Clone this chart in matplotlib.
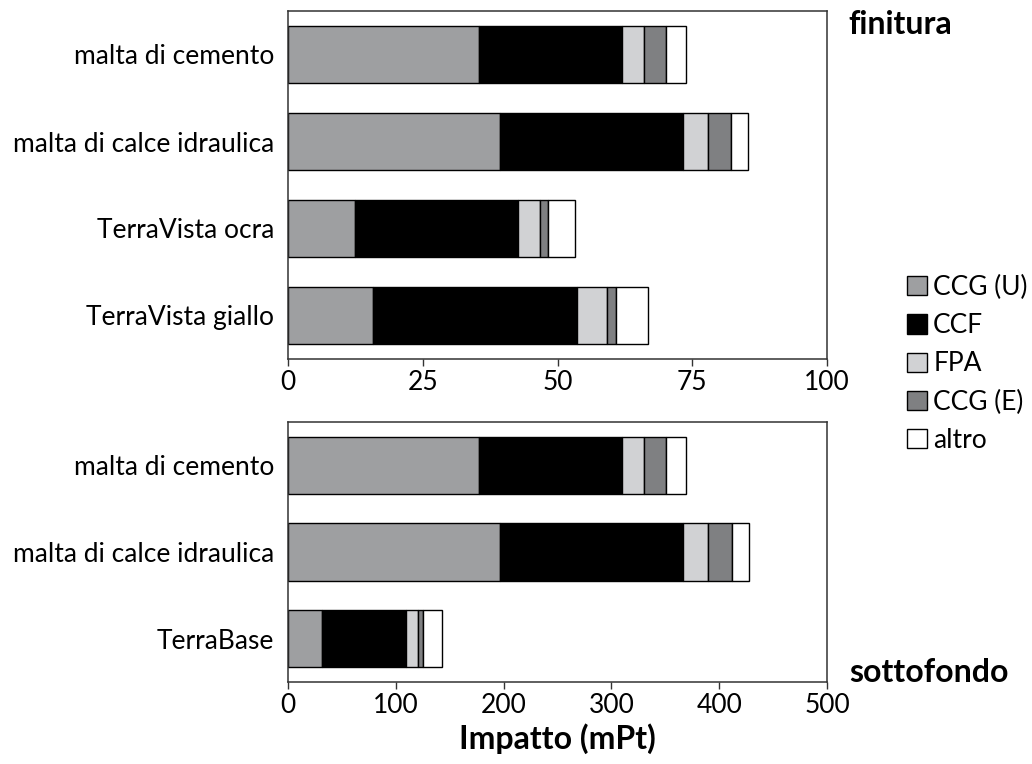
import numpy as np
import matplotlib
matplotlib.use("Agg")
import matplotlib.pyplot as plt

plt.rcParams["font.family"] = ["Lato", "DejaVu Sans"]

# ============================================================
# dati
# ============================================================
components = ["CCG (U)", "CCF", "FPA", "CCG (E)", "altro"]
colors = ["#9e9fa1", "#000000", "#d1d2d4", "#7f8082", "#ffffff"]

fin_labels = ["malta di cemento", "malta di calce idraulica",
              "TerraVista ocra", "TerraVista giallo"]
fin_ccg_u = [35.5, 39.3, 12.5, 15.8]
fin_ccf = [26.4, 33.9, 30.1, 37.8]
fin_fpa = [4.2, 4.7, 4.1, 5.6]
fin_ccg_e = [4.0, 4.3, 1.5, 1.7]
fin_altro = [3.7, 3.2, 5.1, 5.8]

sot_labels = ["malta di cemento", "malta di calce idraulica", "TerraBase"]
sot_ccg_u = [177.6, 196.8, 31.1]
sot_ccf = [131.9, 169.7, 77.9]
sot_fpa = [21.2, 23.2, 12.0]
sot_ccg_e = [19.9, 22.2, 4.2]
sot_altro = [18.5, 15.9, 17.9]

W, H = 1032, 764
fig = plt.figure(figsize=(W / 100, H / 100), dpi=100)


def px_axes(left, top, right, bottom):
    return fig.add_axes([left / W, 1 - bottom / H,
                         (right - left) / W, (bottom - top) / H])


def stacked(ax, labels, series, xmax, step):
    y = np.arange(len(labels))
    left = np.zeros(len(labels))
    for vals, col, name in zip(series, colors, components):
        ax.barh(y, vals, left=left, height=0.66, color=col,
                edgecolor="black", linewidth=1.0, label=name)
        left = left + np.asarray(vals)
    ax.set_yticks(y)
    ax.set_yticklabels(labels)
    ax.set_ylim(len(labels) - 0.5, -0.5)
    ax.set_xlim(0, xmax)
    ax.set_xticks(np.arange(0, xmax + 1, step))
    ax.tick_params(axis="y", length=0, pad=10, labelsize=19)
    ax.tick_params(axis="x", length=5, width=1.0, pad=3, labelsize=19,
                   direction="out", color="#333333")
    for sp in ax.spines.values():
        sp.set_linewidth(1.1)
        sp.set_color("#333333")


ax1 = px_axes(288, 11, 827, 359)
stacked(ax1, fin_labels,
        [fin_ccg_u, fin_ccf, fin_fpa, fin_ccg_e, fin_altro], 100, 25)

ax2 = px_axes(288, 422, 827, 682)
stacked(ax2, sot_labels,
        [sot_ccg_u, sot_ccf, sot_fpa, sot_ccg_e, sot_altro], 500, 100)
ax2.set_xlabel("Impatto (mPt)", fontsize=23, fontweight="bold", labelpad=4)

fig.text(848 / W, 1 - 25 / H, "finitura", fontsize=23, fontweight="bold",
         va="center", ha="left")
fig.text(849 / W, 1 - 673 / H, "sottofondo", fontsize=23, fontweight="bold",
         va="center", ha="left")

handles, labs = ax1.get_legend_handles_labels()
fig.legend(handles, labs, loc="upper left",
           bbox_to_anchor=(907 / W, 1 - 275 / H),
           frameon=False, fontsize=19, borderpad=0, borderaxespad=0,
           handlelength=0.74, handleheight=0.74, handletextpad=0.25,
           labelspacing=0.5)

fig.savefig("out.png", dpi=100)
